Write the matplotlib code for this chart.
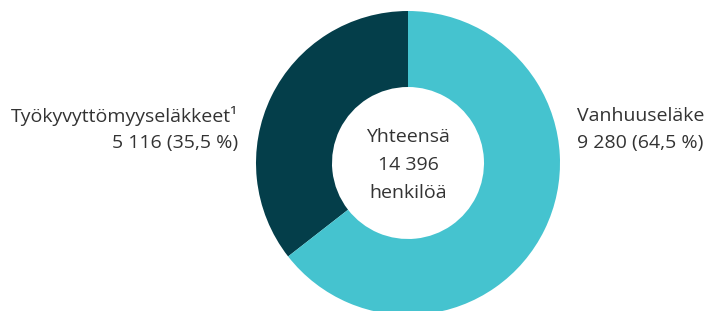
import matplotlib.pyplot as plt

labels = ["Työkyvyttömyyseläkkeet¹", "Vanhuuseläke"]
values = [5116, 9280]
colors = ["#043e4a", "#45c3cf"]
total = sum(values)

plt.rcParams["font.family"] = ["Open Sans", "DejaVu Sans"]
text_color = "#333333"

fig = plt.figure(figsize=(7.1, 3.11), dpi=100)
ax = fig.add_axes([0, 0, 1, 1])
ax.axis("off")

cx, cy, r = 408, 311 - 163, 152
ax.pie(values, colors=colors, startangle=90, counterclock=True,
       center=(cx, cy), radius=r, wedgeprops=dict(width=r * 0.5, linewidth=0))
ax.set_xlim(0, 710)
ax.set_ylim(0, 311)
ax.set_aspect("equal")

def fmt(v):
    return f"{v:,}".replace(",", " ")

def pct(v):
    return f"{v / total * 100:.1f}".replace(".", ",")

fs = 14
ax.text(238, 311 - 116, labels[0], ha="right", va="center", fontsize=fs, color=text_color)
ax.text(238, 311 - 143, f"{fmt(values[0])} ({pct(values[0])} %)", ha="right", va="center",
        fontsize=fs, color=text_color)
ax.text(577, 311 - 116, labels[1], ha="left", va="center", fontsize=fs, color=text_color)
ax.text(577, 311 - 143, f"{fmt(values[1])} ({pct(values[1])} %)", ha="left", va="center",
        fontsize=fs, color=text_color)

ax.text(cx, 311 - 137, "Yhteensä", ha="center", va="center", fontsize=fs, color=text_color)
ax.text(cx, 311 - 165, fmt(total), ha="center", va="center", fontsize=fs, color=text_color)
ax.text(cx, 311 - 193, "henkilöä", ha="center", va="center", fontsize=fs, color=text_color)

fig.savefig("out.png", dpi=100)
